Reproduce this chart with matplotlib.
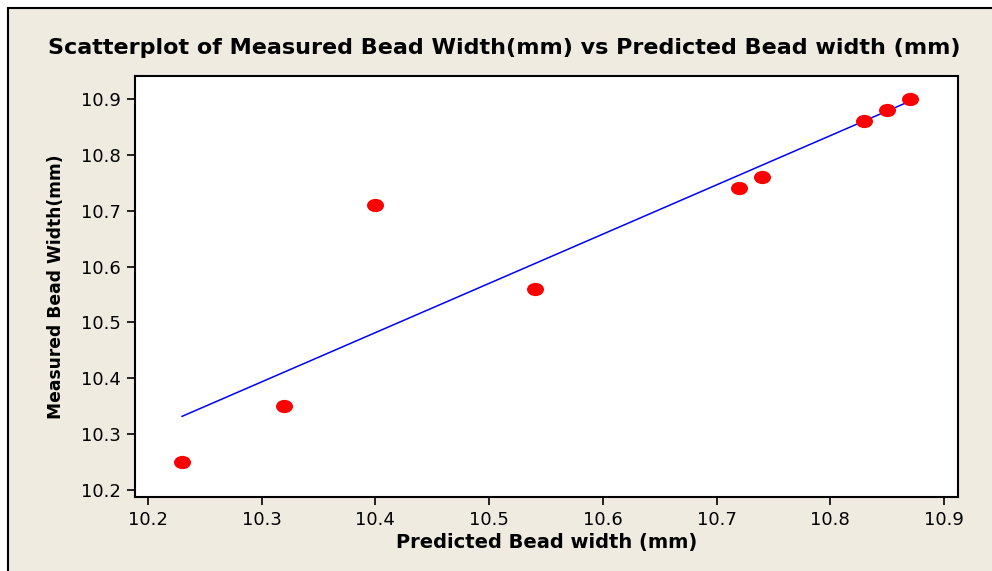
import numpy as np
import matplotlib.pyplot as plt
from matplotlib.path import Path
from matplotlib.patches import Rectangle

# predicted vs measured bead width (mm)
predicted = [10.23, 10.32, 10.40, 10.54, 10.72, 10.74, 10.83, 10.85, 10.87]
measured = [10.25, 10.35, 10.71, 10.56, 10.74, 10.76, 10.86, 10.88, 10.90]
xticks = [10.2, 10.3, 10.4, 10.5, 10.6, 10.7, 10.8, 10.9]
yticks = [10.2, 10.3, 10.4, 10.5, 10.6, 10.7, 10.8, 10.9]

bg = '#efebe1'

fig = plt.figure(figsize=(9.92, 5.71), dpi=100)
fig.patch.set_facecolor('white')
# outer Minitab-style panel
fig.patches.append(Rectangle((8 / 992, -0.1), 1.1, 1 - 8 / 571 + 0.1,
                             transform=fig.transFigure, facecolor=bg,
                             edgecolor='black', linewidth=1.5, zorder=-1))

ax = fig.add_axes([135 / 992, 1 - 497 / 571, (958 - 135) / 992, (497 - 76) / 571])
ax.set_facecolor('white')

# slightly flattened dot, like the original
circ = Path.unit_circle()
ellipse = Path(circ.vertices * np.array([1.0, 0.78]), circ.codes)

ax.scatter(predicted, measured, marker=ellipse, s=150, color='red', zorder=3, linewidths=0)

# fitted line
b1, b0 = np.polyfit(predicted, measured, 1)
xs = np.array([min(predicted), max(predicted)])
ax.plot(xs, b0 + b1 * xs, color='blue', linewidth=1.1, zorder=2)

ax.set_xlim(10.1886, 10.9123)
ax.set_ylim(10.1875, 10.941)
ax.set_xticks(xticks)
ax.set_yticks(yticks)
ax.set_xticklabels([f'{t:.1f}' for t in xticks])
ax.set_yticklabels([f'{t:.1f}' for t in yticks])
ax.tick_params(direction='out', length=6, width=1.2, labelsize=13, pad=4, colors='black')
for s in ax.spines.values():
    s.set_linewidth(1.5)

ax.set_xlabel('Predicted Bead width (mm)', fontsize=14, fontweight='bold', labelpad=3)
ax.set_ylabel('Measured Bead Width(mm)', fontsize=12.3, fontweight='bold', labelpad=12)

fig.text(504 / 992, 1 - 48 / 571,
         'Scatterplot of Measured Bead Width(mm) vs Predicted Bead width (mm)',
         ha='center', va='center', fontsize=16, fontweight='bold')

fig.savefig('out.png', dpi=100, facecolor=fig.get_facecolor())
